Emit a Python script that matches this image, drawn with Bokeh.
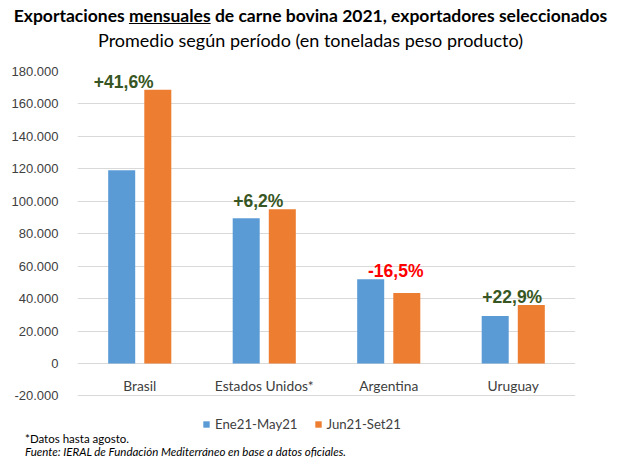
from bokeh.plotting import figure
from bokeh.models import (FactorRange, Range1d, FixedTicker, CustomJSTickFormatter,
                          Legend, LegendItem, ColumnDataSource, Div)
from bokeh.transform import dodge
from bokeh.layouts import column
from bokeh.core.properties import value
from bokeh.embed import file_html
from bokeh.resources import INLINE

# ---- data ----
categories = ["Brasil", "Estados Unidos*", "Argentina", "Uruguay"]
series_names = ["Ene21-May21", "Jun21-Set21"]
ene_may = [119100, 89500, 52000, 29300]
jun_set = [168700, 95100, 43400, 36000]
pct_labels = ["+41,6%", "+6,2%", "-16,5%", "+22,9%"]
y_ticks = [-20000, 0, 20000, 40000, 60000, 80000, 100000, 120000, 140000, 160000, 180000]

# ---- styles ----
BLUE = "#5B9BD5"
ORANGE = "#ED7D31"
GREEN = "#375623"
RED = "#FF0000"
pct_colors = [GREEN, GREEN, RED, GREEN]
pct_x_offsets = [-16, -6, 7, -1]

src = ColumnDataSource(dict(cat=categories, a=ene_may, b=jun_set,
                            top=[max(x, y) for x, y in zip(ene_may, jun_set)],
                            pct=pct_labels, pcol=pct_colors, pdx=pct_x_offsets,
                            zero=[0] * len(categories)))

title_div = Div(
    text=('<div style="font-family:Lato; text-align:center; width:605px; color:#000; margin-top:-2px;">'
          '<div style="font-size:17.5px; font-weight:bold; line-height:20px;">'
          'Exportaciones <u>mensuales</u> de carne bovina 2021, exportadores seleccionados</div>'
          '<div style="font-size:18px; line-height:22px; margin-top:3px;">'
          'Promedio según período (en toneladas peso producto)</div></div>'),
    width=605, height=50, margin=0)

p = figure(frame_width=498, frame_height=361, x_range=FactorRange(*categories, range_padding=0),
           y_range=Range1d(-42534, 180000), output_backend="svg", toolbar_location=None,
           min_border_left=62, min_border_right=45, min_border_top=13, min_border_bottom=0,
           margin=0)
p.title.visible = False
p.outline_line_color = None
p.xaxis.visible = False
p.xgrid.grid_line_color = None
p.ygrid.grid_line_color = "#D9D9D9"
p.yaxis.ticker = FixedTicker(ticks=y_ticks)
p.yaxis.formatter = CustomJSTickFormatter(code="""
const s = Math.abs(tick).toFixed(0).replace(/\\B(?=(\\d{3})+(?!\\d))/g, ".");
return (tick < 0 ? "-" : "") + s;""")
p.yaxis.axis_line_color = None
p.yaxis.major_tick_line_color = None
p.yaxis.minor_tick_line_color = None
p.yaxis.major_label_text_font = "Liberation Sans"
p.yaxis.major_label_text_font_size = "13px"
p.yaxis.major_label_text_color = "#404040"
p.yaxis.major_label_standoff = 13

r1 = p.vbar(x=dodge("cat", -0.145, range=p.x_range), top="a", width=0.217, source=src,
            fill_color=BLUE, line_color=None)
r2 = p.vbar(x=dodge("cat", 0.145, range=p.x_range), top="b", width=0.217, source=src,
            fill_color=ORANGE, line_color=None)

p.text(x="cat", y="zero", text="cat", source=src, y_offset=22, text_align="center",
       text_baseline="middle", text_font=value("Lato"), text_font_size="13.8px",
       text_color="#404040")
p.text(x="cat", y="top", text="pct", source=src, x_offset="pdx", y_offset=-8,
       text_align="center", text_baseline="middle", text_font=value("Liberation Sans"),
       text_font_size="17.5px", text_font_style="bold", text_color="pcol")

legend = Legend(items=[LegendItem(label=series_names[0], renderers=[r1]),
                       LegendItem(label=series_names[1], renderers=[r2])],
                orientation="horizontal", location=(125, 0), padding=0, margin=0,
                spacing=16, label_standoff=5, glyph_width=8, glyph_height=8,
                label_height=14, label_text_font="Lato", label_text_font_size="13.2px",
                label_text_color="#404040", border_line_color=None,
                background_fill_alpha=0)
p.add_layout(legend, "center")

foot_div = Div(
    text=('<div style="font-family:Lato; font-size:11.5px; color:#000; padding-left:17px; line-height:13px;">'
          '*Datos hasta agosto.<br><i>Fuente: IERAL de Fundación Mediterráneo en base a datos oficiales.</i></div>'),
    width=605, height=27, margin=0)

layout = column(title_div, p, foot_div, spacing=0, margin=(8, 0, 0, 8))
open("out.html", "w").write(file_html(layout, INLINE))
